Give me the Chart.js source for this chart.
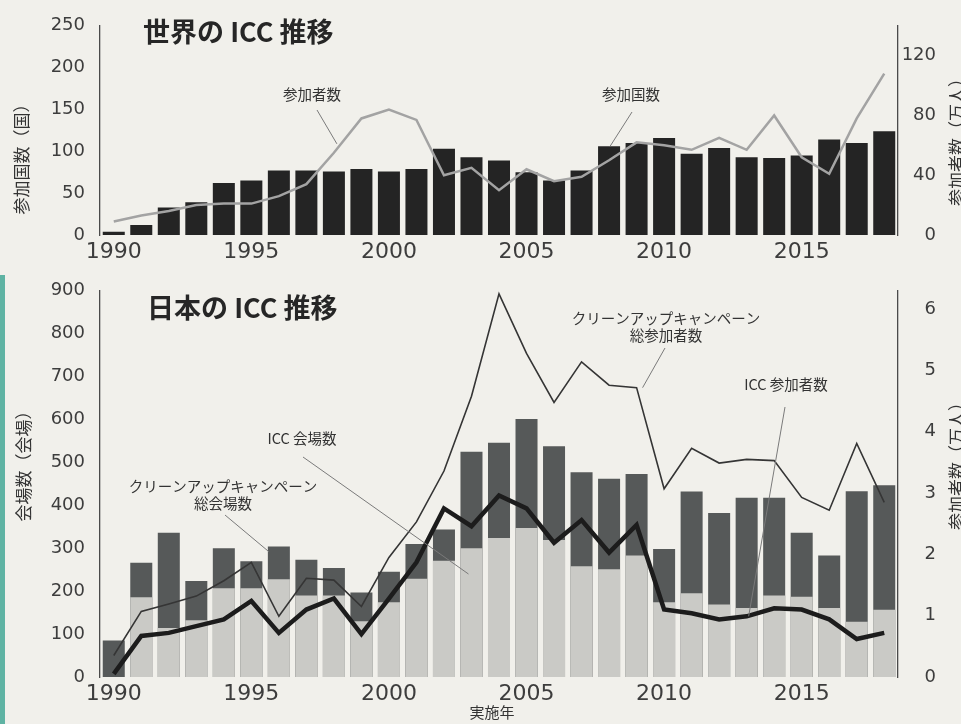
<!DOCTYPE html>
<html>
<head>
<meta charset="utf-8">
<script src="https://cdn.jsdelivr.net/npm/chart.js@4.4.1/dist/chart.umd.min.js"></script>
<style>
  html, body { margin: 0; padding: 0; background: #f1f0eb; }
  #page { position: relative; width: 961px; height: 724px; overflow: hidden; }
  #world { position: absolute; left: 0; top: 0; }
  #japan { position: absolute; left: 0; top: 265px; }
  .edge { position: absolute; left: 0; top: 275px; width: 5px; height: 449px; background: #5fb3a3; }
</style>
</head>
<body>
<div id="page">
  <div class="edge"></div>
  <canvas id="world" width="961" height="265" style="width:961px;height:265px"></canvas>
  <canvas id="japan" width="961" height="459" style="width:961px;height:459px"></canvas>
</div>
<script>
// data
const years = ["1990", "1991", "1992", "1993", "1994", "1995", "1996", "1997", "1998", "1999",
  "2000", "2001", "2002", "2003", "2004", "2005", "2006", "2007", "2008", "2009",
  "2010", "2011", "2012", "2013", "2014", "2015", "2016", "2017", "2018"];
const yearTicks = ["1990", "1995", "2000", "2005", "2010", "2015"];

// world: countries (left), participants in 10k people (right)
const worldCountries = [4, 12, 33, 39, 62, 65, 77, 77, 76, 79, 76, 79, 103, 93, 89, 75, 65, 77,
  106, 110, 116, 97, 104, 93, 92, 95, 114, 110, 124];
const worldParticipants = [9, 13, 16, 20, 21, 21, 26, 34, 55, 78, 84, 77, 40, 45, 30, 44, 36, 39,
  50, 62, 60, 57, 65, 57, 80, 52, 41, 78, 108];
const worldCountryTicks = [0, 50, 100, 150, 200, 250];
const worldPeopleTicks = [0, 40, 80, 120];

// japan: venues (left), participants in 10k people (right)
const japanTotalVenues = [85, 266, 336, 224, 300, 270, 304, 273, 254, 197, 245, 310, 344, 525, 546,
  601, 538, 477, 462, 473, 298, 432, 382, 418, 418, 336, 283, 433, 447];
const japanIccVenues = [0, 186, 114, 132, 207, 207, 228, 190, 190, 130, 174, 229, 271, 300, 324,
  347, 319, 258, 251, 283, 174, 195, 169, 161, 190, 187, 161, 129, 157];
const japanTotalParticipants = [0.35, 1.07, 1.19, 1.32, 1.57, 1.87, 0.99, 1.61, 1.58, 1.15, 1.95,
  2.53, 3.36, 4.58, 6.25, 5.28, 4.48, 5.14, 4.76, 4.72, 3.07, 3.73, 3.49, 3.55, 3.53, 2.93, 2.72, 3.81, 2.85];
const japanIccParticipants = [0.05, 0.67, 0.72, 0.83, 0.94, 1.24, 0.72, 1.10, 1.28, 0.70, 1.28,
  1.87, 2.75, 2.46, 2.96, 2.75, 2.19, 2.56, 2.03, 2.48, 1.10, 1.04, 0.94, 0.99, 1.12, 1.10, 0.94, 0.62, 0.72];
const japanVenueTicks = [0, 100, 200, 300, 400, 500, 600, 700, 800, 900];
const japanPeopleTicks = [0, 1, 2, 3, 4, 5, 6];

// shared look
const cjk = "'Noto Sans CJK JP', sans-serif";
const numFont = { family: "'DejaVu Sans', sans-serif", size: 18 };
const yearFont = { family: "'DejaVu Sans', sans-serif", size: 22 };
const inkColor = "#3d3d3d";
const dotted = { display: true, color: "#4a4a4a", width: 1.3, dash: [1, 2] };

const fixedTicks = (list) => (scale) => { scale.ticks = list.map((v) => ({ value: v })); };
const fixWidth = (w) => (scale) => { scale.width = w; };
const fixHeight = (h) => (scale) => { scale.height = h; };
const idx = (y) => years.indexOf(y);

function xAxis(h) {
  return {
    type: "category",
    offset: true,
    grid: { display: false, drawTicks: false },
    border: { display: false },
    ticks: {
      autoSkip: false, maxRotation: 0, padding: 4, color: inkColor, font: yearFont,
      callback: (v, i) => (yearTicks.includes(years[i]) ? years[i] : ""),
    },
    afterFit: fixHeight(h),
  };
}

function leftAxis(max, list) {
  return {
    position: "left", min: 0, max: max,
    grid: { display: false, drawTicks: false },
    border: dotted,
    ticks: { padding: 15, color: inkColor, font: numFont },
    afterBuildTicks: fixedTicks(list),
    afterFit: fixWidth(100),
  };
}

function rightAxis(max, list) {
  return {
    position: "right", min: 0, max: max,
    grid: { display: false, drawTicks: false },
    border: dotted,
    ticks: { crossAlign: "far", color: inkColor, font: numFont },
    afterBuildTicks: fixedTicks(list),
    afterFit: fixWidth(38),
  };
}

function vText(ctx, text, cx, cy) {
  ctx.save();
  ctx.translate(cx, cy);
  ctx.rotate(-Math.PI / 2);
  ctx.font = `17px ${cjk}`;
  ctx.textAlign = "center";
  ctx.textBaseline = "middle";
  ctx.fillStyle = "#333";
  ctx.fillText(text, 0, 0);
  ctx.restore();
}

function note(ctx, lines, cx, cy, from, tip) {
  ctx.save();
  ctx.font = `14.5px ${cjk}`;
  ctx.textAlign = "center";
  ctx.textBaseline = "middle";
  ctx.fillStyle = "#333";
  lines.forEach((t, i) => ctx.fillText(t, cx, cy + i * 17));
  ctx.strokeStyle = "#7a7a7a";
  ctx.lineWidth = 1;
  ctx.beginPath();
  ctx.moveTo(from[0], from[1]);
  ctx.lineTo(tip[0], tip[1]);
  ctx.stroke();
  ctx.restore();
}

function heading(ctx, text, x, y) {
  ctx.save();
  ctx.font = `bold 27px ${cjk}`;
  ctx.textAlign = "left";
  ctx.textBaseline = "middle";
  ctx.fillStyle = "#262626";
  ctx.fillText(text, x, y);
  ctx.restore();
}

// world chart
const worldDecor = {
  id: "worldDecor",
  afterDraw(chart) {
    const { ctx } = chart;
    const x = chart.scales.x, y = chart.scales.y, y1 = chart.scales.y1;
    heading(ctx, "世界の ICC 推移", 143, 32);
    vText(ctx, "参加国数（国）", 22, 155);
    vText(ctx, "参加者数（万人）", 957, 138);
    note(ctx, ["参加者数"], 312, 94, [317, 110],
      [x.getPixelForValue(idx("1998")) + 3, y1.getPixelForValue(61)]);
    note(ctx, ["参加国数"], 631, 94, [632, 112],
      [x.getPixelForValue(idx("2008")) + 1, y.getPixelForValue(worldCountries[idx("2008")])]);
  },
};

new Chart(document.getElementById("world"), {
  type: "bar",
  data: {
    labels: years,
    datasets: [
      {
        type: "line", label: "参加者数", data: worldParticipants, yAxisID: "y1",
        borderColor: "#a3a3a3", borderWidth: 2.5, pointRadius: 0, tension: 0, order: 0,
      },
      {
        label: "参加国数", data: worldCountries, yAxisID: "y",
        backgroundColor: "#242424", barPercentage: 0.8, categoryPercentage: 1, order: 1,
      },
    ],
  },
  options: {
    responsive: false,
    animation: false,
    layout: { padding: { top: 20, right: 25, left: 0, bottom: 0 } },
    plugins: { legend: { display: false }, tooltip: { enabled: false } },
    scales: {
      x: xAxis(30),
      y: leftAxis(250, worldCountryTicks),
      y1: rightAxis(140, worldPeopleTicks),
    },
  },
  plugins: [worldDecor],
});

// japan chart
const japanDecor = {
  id: "japanDecor",
  afterDraw(chart) {
    const { ctx } = chart;
    const x = chart.scales.x, y = chart.scales.y, y1 = chart.scales.y1;
    heading(ctx, "日本の ICC 推移", 147, 43);
    vText(ctx, "会場数（会場）", 24, 197);
    vText(ctx, "参加者数（万人）", 957, 197);
    ctx.save();
    ctx.font = `15px ${cjk}`;
    ctx.textAlign = "center";
    ctx.textBaseline = "middle";
    ctx.fillStyle = "#333";
    ctx.fillText("実施年", 492, 447);
    ctx.restore();
    note(ctx, ["ICC 会場数"], 302, 173, [303, 192],
      [x.getPixelForValue(idx("2003")) - 3, y.getPixelForValue(240)]);
    note(ctx, ["クリーンアップキャンペーン", "総会場数"], 223, 221, [225, 250],
      [x.getPixelForValue(idx("1996")) - 10, y.getPixelForValue(292)]);
    note(ctx, ["クリーンアップキャンペーン", "総参加者数"], 666, 53, [665, 83],
      [x.getPixelForValue(idx("2009")) + 6, y1.getPixelForValue(japanTotalParticipants[idx("2009")])]);
    note(ctx, ["ICC 参加者数"], 786, 119, [785, 142],
      [x.getPixelForValue(idx("2013")) + 2, y1.getPixelForValue(japanIccParticipants[idx("2013")])]);
  },
};

new Chart(document.getElementById("japan"), {
  type: "bar",
  data: {
    labels: years,
    datasets: [
      {
        type: "line", label: "ICC 参加者数", data: japanIccParticipants, yAxisID: "y1",
        borderColor: "#1c1c1c", borderWidth: 4.5, pointRadius: 0, tension: 0, order: 0,
      },
      {
        type: "line", label: "クリーンアップキャンペーン総参加者数", data: japanTotalParticipants, yAxisID: "y1",
        borderColor: "#353535", borderWidth: 1.6, pointRadius: 0, tension: 0, order: 1,
      },
      {
        label: "ICC 会場数", data: japanIccVenues, yAxisID: "y", grouped: false,
        backgroundColor: "#cacac6", barPercentage: 0.8, categoryPercentage: 1, order: 2,
      },
      {
        label: "クリーンアップキャンペーン総会場数", data: japanTotalVenues, yAxisID: "y", grouped: false,
        backgroundColor: "#565959", barPercentage: 0.8, categoryPercentage: 1, order: 3,
      },
    ],
  },
  options: {
    responsive: false,
    animation: false,
    layout: { padding: { top: 19, right: 25, left: 0, bottom: 0 } },
    plugins: { legend: { display: false }, tooltip: { enabled: false } },
    scales: {
      x: xAxis(47),
      y: leftAxis(900, japanVenueTicks),
      y1: rightAxis(6.3, japanPeopleTicks),
    },
  },
  plugins: [japanDecor],
});
</script>
</body>
</html>
